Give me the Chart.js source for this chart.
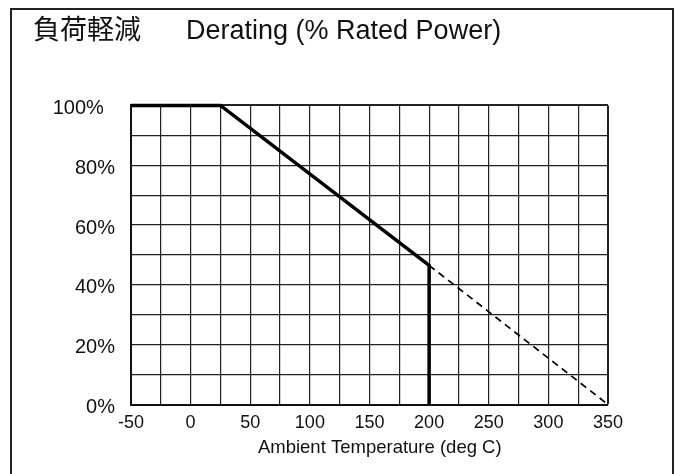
<!DOCTYPE html>
<html lang="ja">
<head>
    <meta charset="UTF-8">
    <title>Derating</title>
    <script src="https://cdn.jsdelivr.net/npm/chart.js"></script>
    <style>
        body { margin: 0; overflow: hidden; background: #fff; }
        #wrap { position: relative; width: 680px; height: 474px; }
        #frame { position: absolute; left: 10px; top: 8px; width: 664px; height: 480px; border: 2px solid #222; box-sizing: border-box; pointer-events: none; }
    </style>
</head>
<body>
    <div id="wrap">
        <canvas id="derating-chart" width="680" height="474"></canvas>
        <div id="frame"></div>
    </div>

    <script>
        // values
        const solidTemps = [-50, 25, 200, 200];
        const solidPower = [100, 100, 46.5, 0];
        const dashTemps = [200, 350];
        const dashPower = [46.5, 0];
        const xTickLabels = [-50, 0, 50, 100, 150, 200, 250, 300, 350];
        const yTickLabels = [0, 20, 40, 60, 80, 100];

        const FONT = "'Liberation Sans', Arial, 'Noto Sans CJK JP', sans-serif";

        const toPoints = (xs, ys) => xs.map((x, i) => ({ x: x, y: ys[i] }));

        const ctx = document.getElementById('derating-chart').getContext('2d');
        new Chart(ctx, {
            type: 'line',
            data: {
                datasets: [
                    {
                        data: toPoints(solidTemps, solidPower),
                        borderColor: '#000',
                        borderWidth: 3.5,
                        pointRadius: 0,
                        fill: false,
                        clip: false
                    },
                    {
                        data: toPoints(dashTemps, dashPower),
                        borderColor: '#000',
                        borderWidth: 1.7,
                        borderDash: [7, 5],
                        pointRadius: 0,
                        fill: false,
                        clip: false
                    }
                ]
            },
            options: {
                responsive: false,
                animation: false,
                layout: { padding: { left: 33, right: 72, top: 0, bottom: 0 } },
                plugins: {
                    legend: { display: false },
                    tooltip: { enabled: false },
                    title: {
                        display: true,
                        align: 'start',
                        text: '負荷軽減      Derating (% Rated Power)',
                        color: '#111',
                        font: { family: FONT, size: 27, weight: 'normal' },
                        padding: { top: 15, bottom: 58 }
                    }
                },
                scales: {
                    x: {
                        type: 'linear',
                        min: -50,
                        max: 350,
                        afterFit: s => { s.height = 69.5; },
                        grid: {
                            color: '#222',
                            lineWidth: c => (c.tick && c.tick.value === 350) ? 2 : 1.2,
                            drawTicks: false
                        },
                        border: { color: '#111', width: 2 },
                        ticks: {
                            stepSize: 25,
                            autoSkip: false,
                            maxRotation: 0,
                            padding: 8,
                            color: '#111',
                            font: { family: FONT, size: 18 },
                            callback: v => xTickLabels.includes(v) ? String(v) : ''
                        },
                        title: {
                            display: true,
                            text: '    Ambient Temperature (deg C)',
                            color: '#111',
                            font: { family: FONT, size: 18.5 },
                            padding: { top: 0, bottom: 15 }
                        }
                    },
                    y: {
                        min: 0,
                        max: 100,
                        afterFit: s => { s.width = 98; },
                        grid: {
                            color: '#222',
                            lineWidth: c => (c.tick && c.tick.value === 100) ? 2 : 1.2,
                            drawTicks: false
                        },
                        border: { color: '#111', width: 2 },
                        ticks: {
                            stepSize: 10,
                            padding: 16,
                            labelOffset: 3,
                            color: '#111',
                            font: { family: FONT, size: 20 },
                            callback: v => yTickLabels.includes(v) ? (v === 100 ? '100%  ' : v + '%') : ''
                        }
                    }
                }
            }
        });
    </script>
</body>
</html>
